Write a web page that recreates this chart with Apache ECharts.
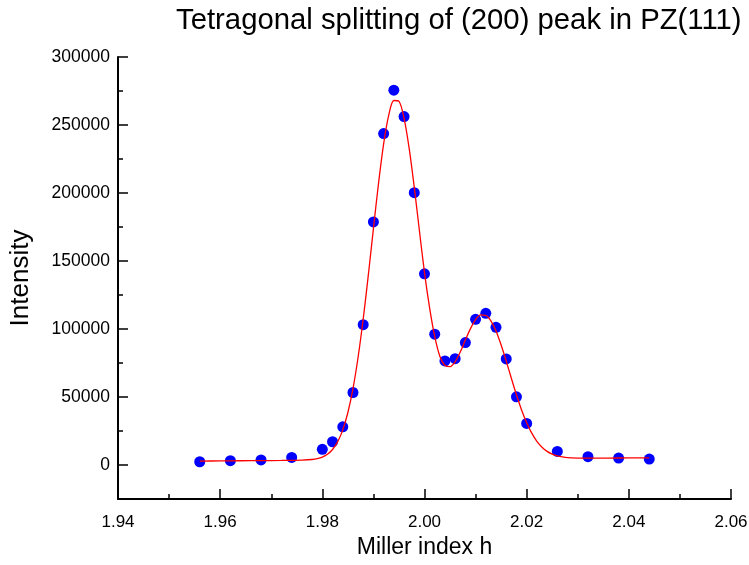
<!DOCTYPE html>
<html>
<head>
<meta charset="utf-8">
<title>Tetragonal splitting of (200) peak in PZ(111)</title>
<script src="https://cdn.jsdelivr.net/npm/echarts@6/dist/echarts.min.js"></script>
<style>
  html, body { margin: 0; padding: 0; background: #fff; }
  #chart { width: 749px; height: 565px; }
</style>
</head>
<body>
<div id="chart"></div>
<script>
// Measured intensities (blue dots)
const measuredH = [1.956, 1.962, 1.968, 1.974, 1.980, 1.982, 1.984, 1.986, 1.988, 1.990,
  1.992, 1.994, 1.996, 1.998, 2.000, 2.002, 2.004, 2.006, 2.008, 2.010,
  2.012, 2.014, 2.016, 2.018, 2.020, 2.026, 2.032, 2.038, 2.044];
const measuredI = [2400, 3150, 3700, 5600, 11500, 17100, 28100, 53300, 103200, 178700,
  243700, 275600, 256200, 200200, 140600, 96200, 76500, 78200, 90000, 107100,
  111500, 101200, 78000, 50100, 30600, 10000, 6100, 5100, 4400];

// Fitted profile (red line)
const fitH = [1.956, 1.960, 1.964, 1.968, 1.972, 1.974, 1.976, 1.978, 1.979, 1.980,
  1.981, 1.982, 1.983, 1.984, 1.985, 1.986, 1.987, 1.988, 1.989, 1.990,
  1.991, 1.992, 1.993, 1.994, 1.995, 1.996, 1.997, 1.998, 1.999, 2.000,
  2.001, 2.002, 2.003, 2.004, 2.005, 2.006, 2.007, 2.008, 2.009, 2.010,
  2.011, 2.012, 2.013, 2.014, 2.015, 2.016, 2.017, 2.018, 2.019, 2.020,
  2.021, 2.022, 2.023, 2.024, 2.025, 2.026, 2.027, 2.028, 2.030, 2.032,
  2.036, 2.040, 2.044];
const fitI = [2900, 3000, 3120, 3230, 3340, 3420, 3560, 4050, 4680, 5840,
  7890, 11400, 17080, 25840, 38620, 56240, 79210, 107360, 139560, 173800,
  207130, 236070, 257250, 268000, 267400, 254900, 232800, 204100, 172400, 141500,
  115500, 94500, 80000, 73200, 72300, 75900, 83100, 91900, 100300, 106900,
  110400, 110100, 106000, 98500, 88200, 76400, 63800, 51600, 40500, 31100,
  23400, 17400, 13100, 10000, 8000, 6700, 5900, 5400, 5100, 5000,
  5100, 5200, 5300];

// Axis ticks
const yMajorTicks = [0, 50000, 100000, 150000, 200000, 250000, 300000];
const yMinorTicks = [-25000, 25000, 75000, 125000, 175000, 225000, 275000];
const xRange = [1.94, 2.06];
const xStep = 0.02;
const yRange = [-25000, 300000];

const FONT = "'Liberation Sans', Arial, sans-serif";

const chart = echarts.init(document.getElementById('chart'), null, { renderer: 'canvas' });

const zip = (xs, ys) => xs.map((x, i) => [x, ys[i]]);

const axisLineStyle = { color: '#000', width: 2 };

chart.setOption({
  animation: false,
  backgroundColor: '#fff',
  title: {
    text: 'Tetragonal splitting of (200) peak in PZ(111)',
    left: 171,
    top: 1,
    textStyle: { fontFamily: FONT, fontSize: 29.3, fontWeight: 'normal', color: '#000' }
  },
  grid: {
    left: 118, right: 18, top: 57, bottom: 66,
    containLabel: false,
    outerBoundsMode: 'none'
  },
  xAxis: {
    type: 'value',
    min: xRange[0],
    max: xRange[1],
    interval: xStep,
    name: 'Miller index h',
    nameLocation: 'middle',
    nameGap: 24,
    nameTextStyle: { fontFamily: FONT, fontSize: 23, color: '#000' },
    axisLine: { show: true, onZero: false, lineStyle: axisLineStyle },
    axisTick: { show: true, inside: true, length: 10, lineStyle: { color: '#000', width: 1.5 } },
    minorTick: { show: true, splitNumber: 2, length: 5, lineStyle: { color: '#000', width: 1.5 } },
    axisLabel: {
      fontFamily: FONT, fontSize: 17, color: '#000', margin: 15,
      formatter: v => v.toFixed(2)
    },
    splitLine: { show: false }
  },
  yAxis: [
    {
      type: 'value',
      min: yRange[0],
      max: yRange[1],
      name: 'Intensity',
      nameLocation: 'middle',
      nameGap: 84,
      nameTextStyle: { fontFamily: FONT, fontSize: 26, color: '#000' },
      axisLine: { show: true, onZero: false, lineStyle: axisLineStyle },
      axisTick: { show: true, inside: true, length: 10, customValues: yMajorTicks,
        lineStyle: { color: '#000', width: 1.5 } },
      axisLabel: { fontFamily: FONT, fontSize: 17.5, color: '#000', margin: 8,
        customValues: yMajorTicks, formatter: v => String(v) },
      splitLine: { show: false }
    },
    {
      type: 'value',
      position: 'left',
      min: yRange[0],
      max: yRange[1],
      axisLine: { show: false },
      axisTick: { show: true, inside: true, length: 5, customValues: yMinorTicks,
        lineStyle: { color: '#000', width: 1.5 } },
      axisLabel: { show: false },
      splitLine: { show: false }
    }
  ],
  series: [
    {
      type: 'scatter',
      data: zip(measuredH, measuredI),
      symbol: 'circle',
      symbolSize: 11,
      itemStyle: { color: '#0000ff', opacity: 1 },
      z: 2
    },
    {
      type: 'line',
      data: zip(fitH, fitI),
      smooth: 0.3,
      showSymbol: false,
      lineStyle: { color: '#ff0000', width: 1.3 },
      z: 3
    }
  ]
});
</script>
</body>
</html>
